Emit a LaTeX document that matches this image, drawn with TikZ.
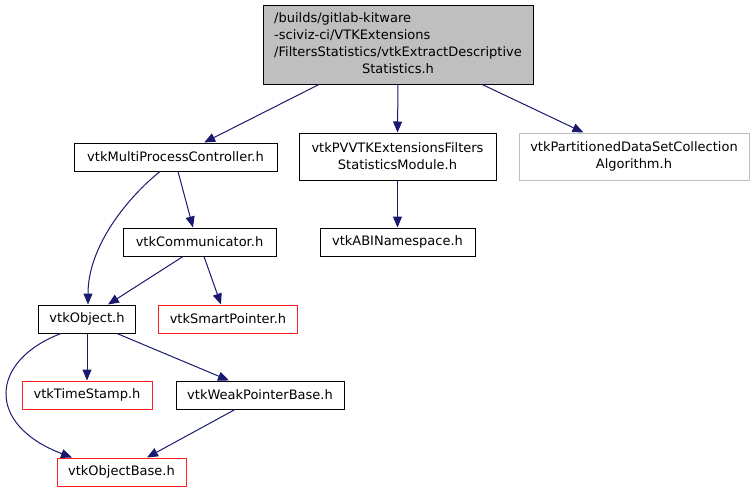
\documentclass[tikz,border=0pt]{standalone}
\usepackage{fontspec}
\setmainfont{DejaVu Sans}
\usetikzlibrary{arrows.meta}
\definecolor{edgeblue}{HTML}{191970}
\definecolor{boxgray}{HTML}{BFBFBF}
\definecolor{boxred}{HTML}{FF2020}
\begin{document}
\begin{tikzpicture}[x=1pt,y=-1pt,
  box/.style={draw=black,line width=1pt,inner sep=0pt,minimum height=28pt,
    font=\fontsize{13}{17}\selectfont,align=center,text=black},
  redbox/.style={box,draw=boxred},
  graybox/.style={box,draw=boxgray},
  edge/.style={draw=edgeblue,line width=1pt,-{Triangle[length=11pt,width=9pt]}}]
\useasboundingbox (0,0) rectangle (755,493);
\node[box,fill=boxgray,minimum width=270pt,minimum height=79pt] (root) at (398,44.5)
  {\begin{tabular}{@{}l@{}}/builds/gitlab-kitware\\-sciviz-ci/VTKExtensions\\/FiltersStatistics/vtkExtractDescriptive\\\multicolumn{1}{@{}c@{}}{Statistics.h}\end{tabular}};
\node[box,minimum width=203pt] (mpc) at (175.5,157) {vtkMultiProcessController.h};
\node[box,minimum width=197pt,minimum height=47pt] (pv) at (397.5,156.5) {vtkPVVTKExtensionsFilters\\StatisticsModule.h};
\node[graybox,minimum width=230pt,minimum height=47pt] (part) at (634,156.5) {vtkPartitionedDataSetCollection\\Algorithm.h};
\node[box,minimum width=155pt] (abi) at (397.5,242) {vtkABINamespace.h};
\node[box,minimum width=153pt] (comm) at (199.5,242) {vtkCommunicator.h};
\node[box,minimum width=97pt] (obj) at (87,319) {vtkObject.h};
\node[redbox,minimum width=139pt] (smart) at (228,319) {vtkSmartPointer.h};
\node[redbox,minimum width=130pt] (ts) at (87,395) {vtkTimeStamp.h};
\node[box,minimum width=168pt] (weak) at (260,395) {vtkWeakPointerBase.h};
\node[redbox,minimum width=129pt] (ob) at (121.5,472) {vtkObjectBase.h};

\draw[edge] (root) -- (mpc);
\draw[edge] (root.south) -- (pv.north);
\draw[edge] (root) -- (part);
\draw[edge] (pv.south) -- (abi.north);
\draw[edge] ([xshift=-15.5pt]mpc.south) .. controls +(-30,24) and +(0,-60) .. ([xshift=1pt]obj.north);
\draw[edge] ([xshift=2.5pt]mpc.south) -- ([xshift=-6.5pt]comm.north);
\draw[edge] ([xshift=-16.5pt]comm.south) -- ([xshift=21pt]obj.north);
\draw[edge] ([xshift=4.5pt]comm.south) -- ([xshift=-7pt]smart.north);
\draw[edge] (obj.south) -- (ts.north);
\draw[edge] ([xshift=-26pt]obj.south) .. controls +(-71,27) and +(-87,-33) .. ([xshift=-49.5pt]ob.north);
\draw[edge] ([xshift=30pt]obj.south) -- ([xshift=-31pt]weak.north);
\draw[edge] ([xshift=-25pt]weak.south) -- ([xshift=25.5pt]ob.north);
\end{tikzpicture}
\end{document}
